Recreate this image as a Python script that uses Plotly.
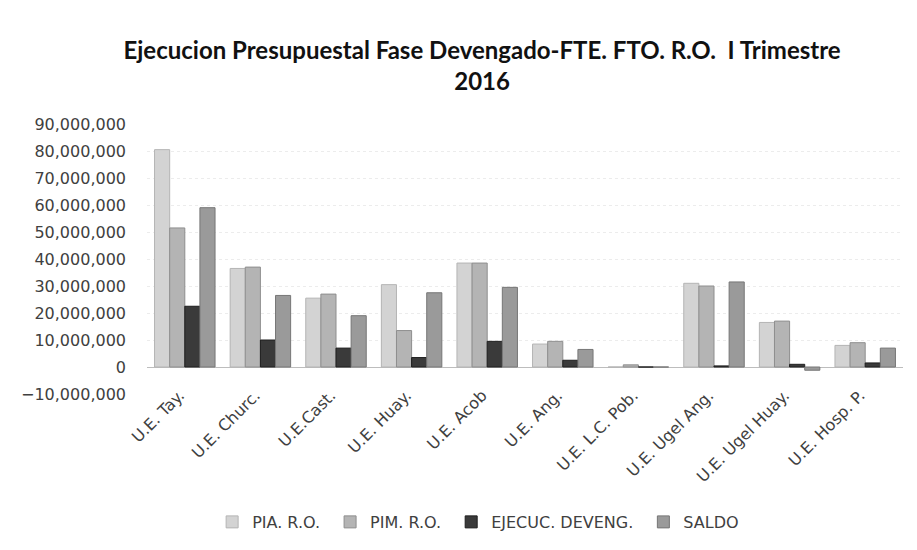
import plotly.graph_objects as go

categories = ["U.E. Tay.", "U.E. Churc.", "U.E.Cast.", "U.E. Huay.", "U.E. Acob",
              "U.E. Ang.", "U.E. L.C. Pob.", "U.E. Ugel Ang.", "U.E. Ugel Huay.", "U.E. Hosp. P."]
pia = [80500000, 36500000, 25500000, 30500000, 38500000, 8500000, 0, 31000000, 16500000, 8000000]
pim = [51500000, 37000000, 27000000, 13500000, 38500000, 9500000, 800000, 30000000, 17000000, 9000000]
ejec = [22500000, 10000000, 7000000, 3500000, 9500000, 2500000, 0, 400000, 1000000, 1500000]
saldo = [59000000, 26500000, 19000000, 27500000, 29500000, 6500000, 0, 31500000, -1200000, 7000000]

series_names = ["PIA. R.O.", "PIM. R.O.", "EJECUC. DEVENG.", "SALDO"]
series_vals = [pia, pim, ejec, saldo]
colors = ["#d3d3d3", "#b4b4b4", "#3a3a3a", "#9a9a9a"]
edges = ["#b4b4b4", "#8e8e8e", "#1e1e1e", "#767676"]

pad = "\u00a0"

fig = go.Figure()
for i, (name, vals, c, e) in enumerate(zip(series_names, series_vals, colors, edges)):
    label = name + (pad if i < len(series_names) - 1 else "")
    fig.add_trace(go.Bar(x=categories, y=vals, name=label,
                         marker=dict(color=c, line=dict(color=e, width=1))))

label_font = dict(family="DejaVu Sans", size=16, color="#404040")

fig.update_layout(
    width=917, height=550,
    margin=dict(l=139, r=22, t=116, b=164, autoexpand=False),
    paper_bgcolor="white", plot_bgcolor="white",
    barmode="group", bargap=0.2, bargroupgap=0.0,
    title=dict(text="Ejecucion Presupuestal Fase Devengado-FTE. FTO. R.O.  I Trimestre<br>2016",
               x=0.517, xref="container", xanchor="center",
               y=0.908, yref="container", yanchor="top",
               font=dict(family="Lato", size=24, color="#111111", weight="bold")),
    xaxis=dict(tickangle=-45, tickfont=label_font, showgrid=False, showline=False,
               ticks="", automargin=False, ticklabelstandoff=-12, ticklabelshift=-5),
    yaxis=dict(range=[-10000000, 90000000], dtick=10000000, tickformat=",d",
               tickfont=label_font, showgrid=True, gridcolor="#ececec", griddash="dot",
               zeroline=True, zerolinecolor="#bdbdbd", zerolinewidth=1,
               showline=False, ticks="", automargin=False, ticklabelstandoff=20),
    legend=dict(orientation="h", x=0.438, xref="paper", xanchor="center",
                y=-0.474, yanchor="middle", font=label_font,
                traceorder="normal", bgcolor="rgba(0,0,0,0)"),
    showlegend=True,
)

fig.write_html("out.html")
